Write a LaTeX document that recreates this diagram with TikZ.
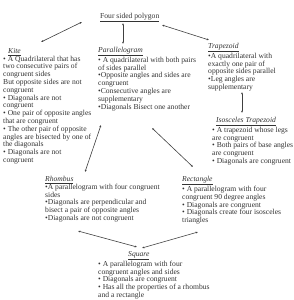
\documentclass[tikz,border=0pt]{standalone}
\usepackage{fontspec}
\setmainfont{Liberation Serif}
\usetikzlibrary{arrows.meta}
\tikzset{
  shapetext/.style={anchor=north west, inner sep=0pt, align=left,
    font=\fontsize{7.6}{7.8}\selectfont, text=black!80},
  link/.style={draw=black!75, line width=0.6pt,
    {Latex[length=2.2pt,width=2pt]}-{Latex[length=2.2pt,width=2pt]}},
}
\newcommand{\shapetitle}[1]{\underline{\textit{#1}}}
\begin{document}
\begin{tikzpicture}[x=1pt,y=-1pt]
\useasboundingbox (0,0) rectangle (293,300);
% the tree of shapes
\node[shapetext] (poly) at (100,13) {\underline{Four sided polygon}};
\node[shapetext] (kite) at (3,48) {\hspace{5pt}\shapetitle{Kite}\\
  • A Quadrilateral that has\\ two consecutive pairs of\\ congruent sides\\
  But opposite sides are not\\ congruent\\ • Diagonals are not\\ congruent\\
  • One pair of opposite angles\\ that are congruent\\
  • The other pair of opposite\\ angles are bisected by one of\\ the diagonals\\
  • Diagonals are not\\ congruent};
\node[shapetext] (para) at (98,47) {\shapetitle{Parallelogram}\\
  • A quadrilateral with both pairs\\ of sides parallel\\
  •Opposite angles and sides are\\ congruent\\ •Consecutive angles are\\
  supplementary\\ •Diagonals Bisect one another};
\node[shapetext] (trap) at (208,43) {\shapetitle{Trapezoid}\\
  •A quadrilateral with\\ exactly one pair of\\ opposite sides parallel\\
  •Leg angles are\\ supplementary};
\node[shapetext] (iso) at (212,117) {\hspace{4pt}\shapetitle{Isosceles Trapezoid}\\
  • A trapezoid whose legs\\ are congruent\\ • Both pairs of base angles\\
  are congruent\\ • Diagonals are congruent};
\node[shapetext] (rhombus) at (45,176) {\shapetitle{Rhombus}\\
  •A parallelogram with four congruent\\ sides\\
  •Diagonals are perpendicular and\\ bisect a pair of opposite angles\\
  •Diagonals are not congruent};
\node[shapetext] (rect) at (182,176) {\shapetitle{Rectangle}\\
  • A parallelogram with four\\ congruent 90 degree angles\\
  • Diagonals are congruent\\ • Diagonals create four isosceles\\ triangles};
\node[shapetext] (square) at (98,251) {\hspace{30pt}\shapetitle{Square}\\
  • A parallelogram with four\\ congruent angles and sides\\
  • Diagonals are congruent\\ • Has all the properties of a rhombus\\
  and a rectangle};
% links
\coordinate (kitetail) at (82,22);
\draw[link] (kitetail) -- ([xshift=38pt,yshift=6pt]kite.north west);
\draw[link] ([xshift=23pt,yshift=-10pt]poly.north west) -- ([xshift=25pt,yshift=3pt]para.north west);
\draw[link] ([xshift=62pt,yshift=-12pt]poly.north west) -- ([xshift=1pt,yshift=3pt]trap.north west);
\draw[link] ([xshift=34pt,yshift=-49pt]trap.north west) -- ([xshift=30pt,yshift=4pt]iso.north west);
\draw[link] ([xshift=3pt,yshift=-78pt]para.north west) -- ([xshift=40pt,yshift=4pt]rhombus.north west);
\draw[link] ([xshift=54pt,yshift=-81pt]para.north west) -- ([xshift=11pt,yshift=9pt]rect.north west);
\draw[link] ([xshift=33pt,yshift=-55pt]rhombus.north west) -- ([xshift=39pt,yshift=4pt]square.north west);
\draw[link] ([xshift=16pt,yshift=-56pt]rect.north west) -- ([xshift=44pt,yshift=3pt]square.north west);
\end{tikzpicture}
\end{document}
